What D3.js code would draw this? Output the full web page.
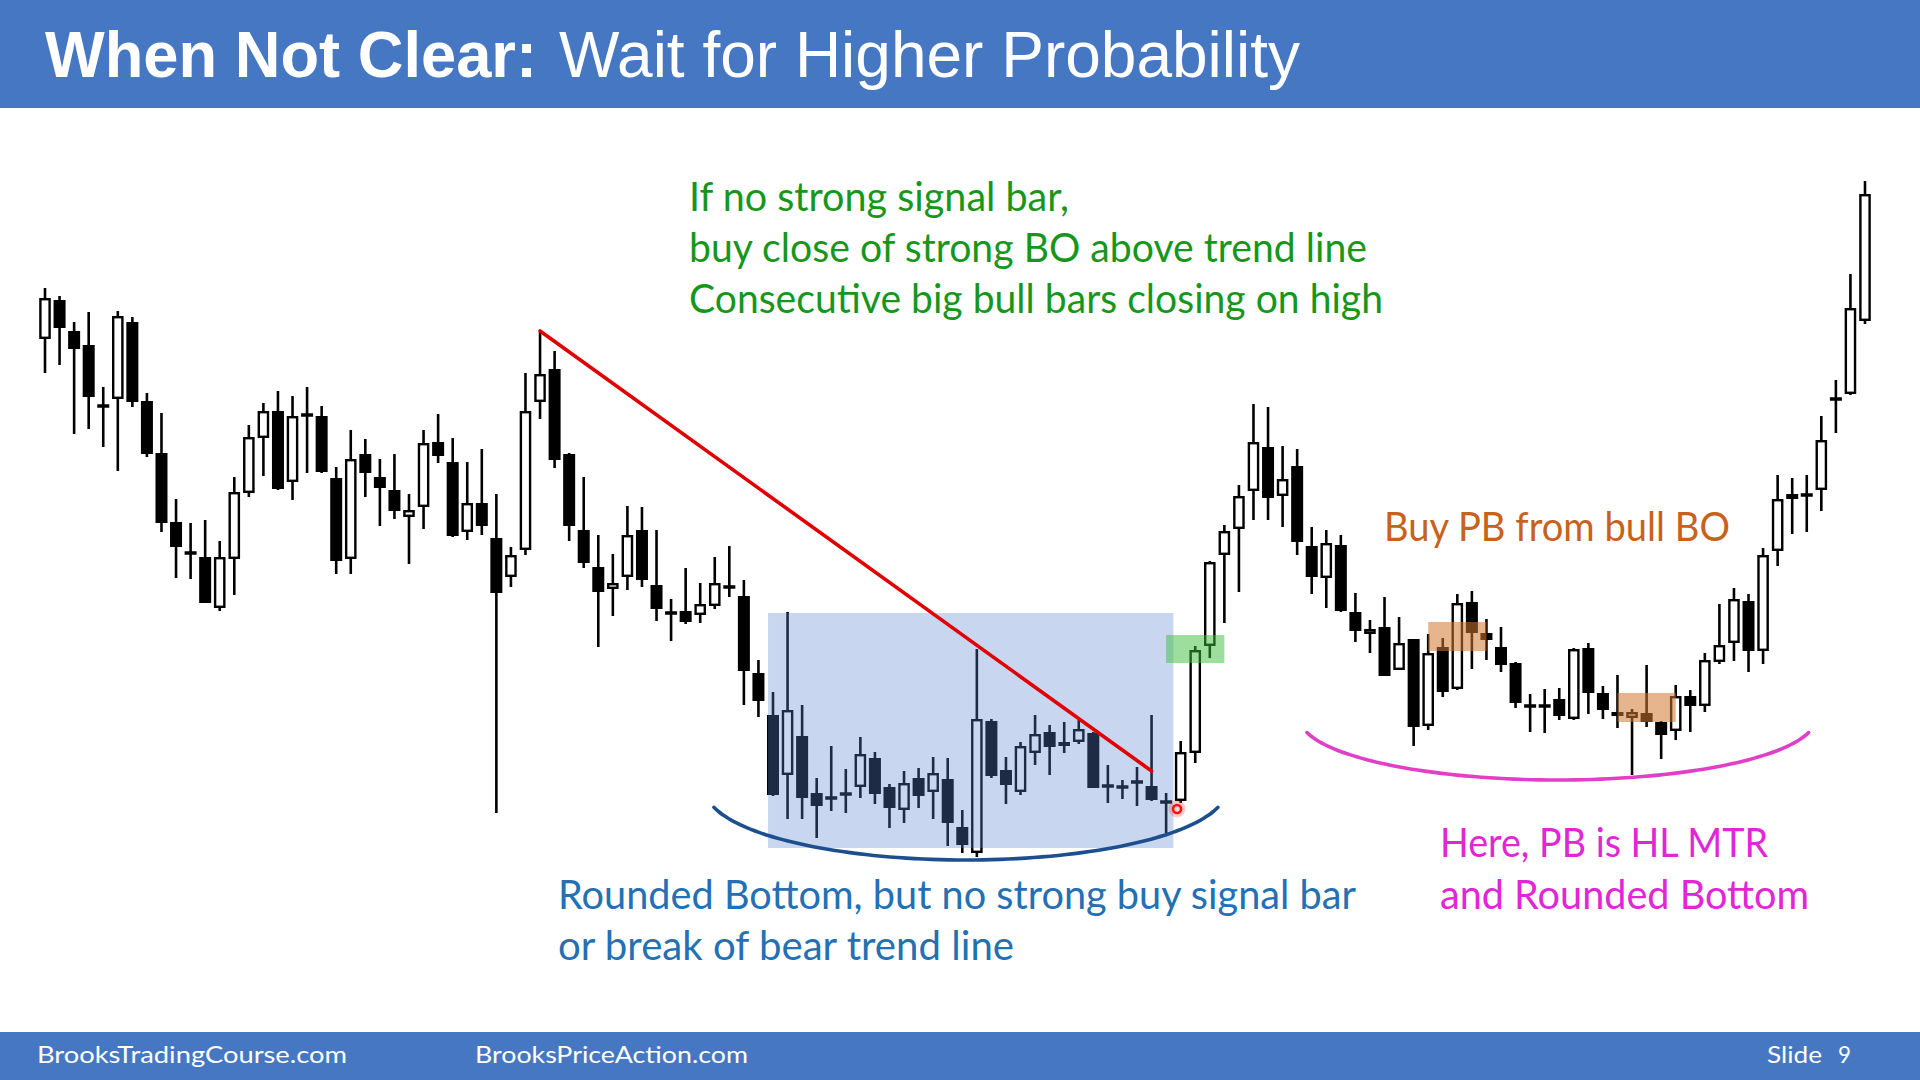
<!DOCTYPE html>
<html><head><meta charset="utf-8">
<script src="https://cdn.jsdelivr.net/npm/d3@7"></script>
<style>html,body{margin:0;padding:0;background:#fff;} svg{display:block;}</style>
</head><body>
<script>
// ---- data (price units) ----
const opens = [
661,700,669,655,594,601,678,599,547,478,
447,443,392,441,507,562,589,518,585,584,
522,441,546,523,510,483,493,558,538,468,
497,462,423,450,598,631,546,470,433,411,
423,470,415,387,389,385,394,413,404,327,
285,225,264,207,202,206,213,242,213,190,
222,208,221,173,147,279,230,208,247,268,
254,258,267,214,213,218,214,198,199,247,
354,445,471,509,553,504,534,454,422,455,
388,366,373,330,361,274,353,311,398,367,
353,337,294,294,301,281,352,307,288,282,
287,278,269,304,294,338,357,399,349,449,
506,505,510,601,606,679];
const highs = [
712,704,678,688,613,689,683,607,587,501,
477,480,459,523,575,597,609,604,613,594,
533,570,561,541,546,506,570,586,562,538,
551,506,453,627,669,649,547,523,465,446,
494,493,470,401,432,417,443,454,420,340,
308,388,295,222,254,231,263,248,216,229,
232,243,242,190,351,281,243,258,285,275,
278,280,268,235,220,233,285,207,259,354,
439,475,515,596,593,554,551,473,470,465,
407,380,403,383,361,366,362,406,409,381,
373,338,306,311,312,352,357,314,325,291,
335,279,315,310,347,396,412,406,452,525,
522,525,584,620,726,819];
const lows = [
627,635,566,571,553,529,593,543,468,422,
421,397,389,405,503,524,510,500,527,527,
426,426,503,474,481,436,471,537,463,460,
465,187,413,445,581,532,459,432,353,384,
410,413,379,359,376,377,391,403,295,283,
204,181,181,162,189,187,202,196,172,177,
192,181,154,147,143,222,196,205,235,225,
247,256,212,197,201,194,199,167,197,237,
342,377,408,480,480,473,445,406,392,388,
358,347,324,330,254,270,303,310,331,340,
328,292,268,267,280,280,286,281,272,225,
273,241,260,268,288,336,339,328,336,434,
466,468,489,567,605,676];
const closes = [
702,672,651,603,594,684,598,546,477,453,
447,397,443,508,563,589,511,584,585,528,
439,541,527,512,489,490,557,544,464,497,
474,407,445,589,626,540,474,437,408,417,
465,420,391,387,378,396,417,413,329,299,
205,290,202,194,202,206,246,206,192,217,
204,227,177,155,281,224,215,254,266,253,
258,271,212,214,213,218,200,198,248,350,
438,469,504,558,502,521,458,423,457,389,
369,371,324,357,273,347,308,397,367,360,
335,297,294,294,284,351,307,290,284,288,
278,265,304,294,340,355,401,349,445,501,
501,505,560,601,692,806];

// annotation anchors in data units (bar index, price)
const trendLine = [[34, 669], [76, 229]];
const rangeBox = {i0: 49.66, i1: 77.5, p0: 387, p1: 152};
const boBox = {i0: 77.0, i1: 81.0, p0: 365, p1: 337};
const pbBoxes = [{i0: 95, i1: 99, p0: 378, p1: 349}, {i0: 108, i1: 112, p0: 307, p1: 278}];
const entryDot = [77.75, 191];
const roundedBottom1 = {ci: 63.25, cp: 210, ri: 17.86, rp: 70, t0: 0.25};
const roundedBottom2 = {ci: 103.9, cp: 282, ri: 17.72, rp: 62, t0: 0.237};

const W = 1920, H = 1080;
const svg = d3.select('body').append('svg').attr('width', W).attr('height', H);
svg.append('rect').attr('width', W).attr('height', H).attr('fill', '#ffffff');

const x = d3.scaleLinear().domain([0, opens.length - 1]).range([45, 1865]);
const y = d3.scaleLinear().domain([100, 850]).range([900, 150]);

const candles = opens.map((o, i) => ({i, o, h: highs[i], l: lows[i], c: closes[i]}));

const g = svg.append('g');
g.selectAll('line.wick').data(candles).join('line').attr('class', 'wick')
  .attr('x1', d => x(d.i)).attr('x2', d => x(d.i))
  .attr('y1', d => y(d.h)).attr('y2', d => y(d.l))
  .attr('stroke', '#000').attr('stroke-width', 2.6);

function bodyGeom(d) {
  let top = y(Math.max(d.o, d.c)), bot = y(Math.min(d.o, d.c));
  if (bot - top < 3.5) { const m = (top + bot) / 2; top = m - 1.75; bot = m + 1.75; }
  return {top, bot};
}
g.selectAll('rect.body').data(candles).join('rect').attr('class', 'body')
  .each(function(d) {
    const b = bodyGeom(d);
    const bull = d.c > d.o;
    const sel = d3.select(this);
    if (bull) {
      sel.attr('x', x(d.i) - 4.6).attr('width', 9.2)
        .attr('y', b.top + 1.2).attr('height', Math.max(0.5, b.bot - b.top - 2.4))
        .attr('fill', '#fff').attr('stroke', '#000').attr('stroke-width', 2.4);
    } else {
      sel.attr('x', x(d.i) - 6).attr('width', 12)
        .attr('y', b.top).attr('height', b.bot - b.top)
        .attr('fill', '#000');
    }
  });

// overlays
function boxRect(b, fill, op) {
  svg.append('rect')
    .attr('x', x(b.i0)).attr('width', x(b.i1) - x(b.i0))
    .attr('y', y(b.p0)).attr('height', y(b.p1) - y(b.p0))
    .attr('fill', fill).attr('fill-opacity', op);
}
boxRect(rangeBox, 'rgb(90,130,210)', 0.33);
boxRect(boBox, 'rgb(60,190,60)', 0.5);
pbBoxes.forEach(b => boxRect(b, 'rgb(210,120,50)', 0.55));

svg.append('line')
  .attr('x1', x(trendLine[0][0])).attr('y1', y(trendLine[0][1]))
  .attr('x2', x(trendLine[1][0])).attr('y2', y(trendLine[1][1]))
  .attr('stroke', '#e00000').attr('stroke-width', 3.6).attr('stroke-linecap', 'round');

function arcPts(a) {
  const n = 80, pts = [];
  for (let k = 0; k <= n; k++) {
    const t = a.t0 + (Math.PI - 2 * a.t0) * k / n;
    pts.push([x(a.ci - a.ri * Math.cos(t)), y(a.cp - a.rp * Math.sin(t))]);
  }
  return pts;
}
const lineGen = d3.line().curve(d3.curveBasis);
svg.append('path').attr('d', lineGen(arcPts(roundedBottom1)))
  .attr('fill', 'none').attr('stroke', '#1d4f8f').attr('stroke-width', 3.6).attr('stroke-linecap', 'round');
svg.append('path').attr('d', lineGen(arcPts(roundedBottom2)))
  .attr('fill', 'none').attr('stroke', '#e040c8').attr('stroke-width', 3.6).attr('stroke-linecap', 'round');

svg.append('circle').attr('cx', x(entryDot[0])).attr('cy', y(entryDot[1])).attr('r', 8.5)
  .attr('fill', 'rgba(255,60,60,0.28)');
svg.append('circle').attr('cx', x(entryDot[0])).attr('cy', y(entryDot[1])).attr('r', 4)
  .attr('fill', '#ffd6d6').attr('stroke', '#ff1010').attr('stroke-width', 2.6);

// title bar & footer
svg.append('rect').attr('x', 0).attr('y', 0).attr('width', W).attr('height', 108).attr('fill', '#4677c3');
svg.append('rect').attr('x', 0).attr('y', 1032).attr('width', W).attr('height', 48).attr('fill', '#4677c3');

svg.append('text').attr('x', 45).attr('y', 77).attr('fill', '#fff')
  .attr('font-family', '"Liberation Sans", Arial, sans-serif').attr('font-weight', 'bold')
  .attr('font-size', 64).attr('textLength', 492).attr('lengthAdjust', 'spacingAndGlyphs')
  .text('When Not Clear:');
svg.append('text').attr('x', 559).attr('y', 77).attr('fill', '#fff')
  .attr('font-family', '"Liberation Sans", Arial, sans-serif')
  .attr('font-size', 64).attr('textLength', 741).attr('lengthAdjust', 'spacingAndGlyphs')
  .text('Wait for Higher Probability');

function label(t, x0, yb, w, color, size) {
  svg.append('text').attr('x', x0).attr('y', yb).attr('fill', color)
    .attr('font-family', 'Lato, "Open Sans", sans-serif').attr('font-size', size || 40)
    .attr('textLength', w).attr('lengthAdjust', 'spacingAndGlyphs').text(t);
}
const green = '#17961c', orange = '#c8621a', blue = '#2370b4', magenta = '#e126d6';
label('If no strong signal bar,', 689, 211, 380, green, 41);
label('buy close of strong BO above trend line', 689, 262, 678, green, 41);
label('Consecutive big bull bars closing on high', 689, 313, 694, green, 41);
label('Buy PB from bull BO', 1384, 541, 346, orange, 41);
label('Rounded Bottom, but no strong buy signal bar', 558, 909, 798, blue, 41);
label('or break of bear trend line', 558, 960, 456, blue, 41);
label('Here, PB is HL MTR', 1440, 857, 328, magenta, 41);
label('and Rounded Bottom', 1440, 909, 369, magenta, 41);

label('BrooksTradingCourse.com', 37, 1063, 310, '#fff', 24);
label('BrooksPriceAction.com', 475, 1063, 273, '#fff', 24);
label('Slide', 1767, 1063, 55, '#fff', 24);
label('9', 1838, 1063, 13, '#fff', 24);
</script>
</body></html>
